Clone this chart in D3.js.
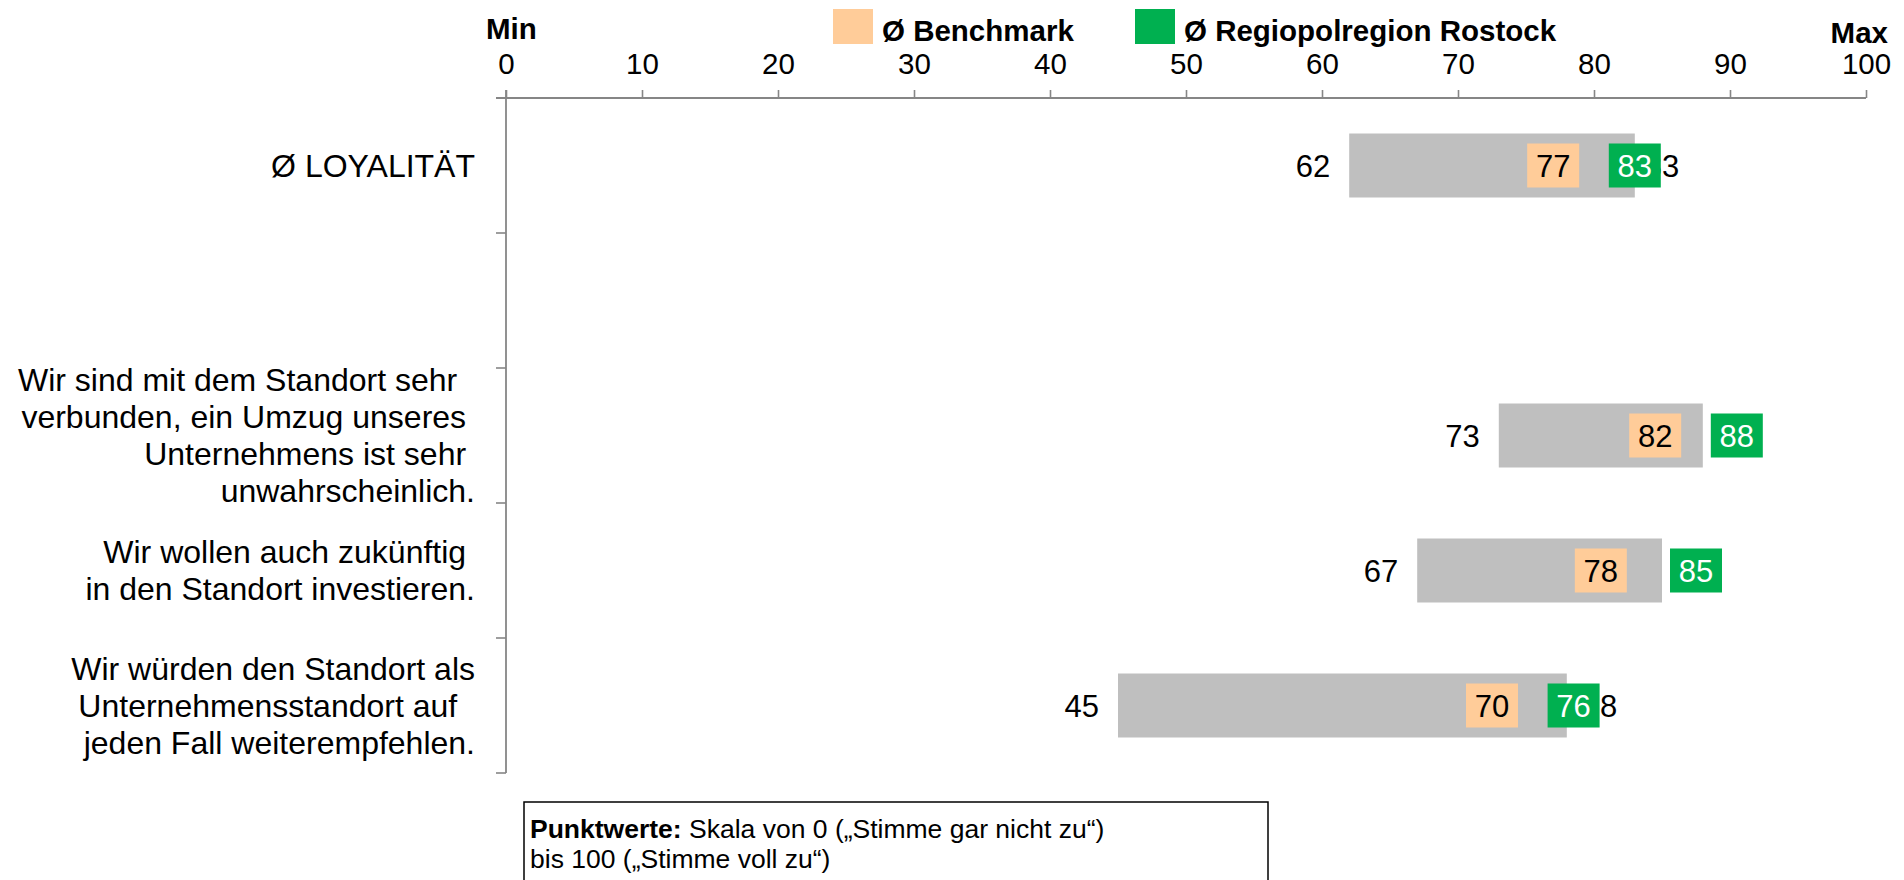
<!DOCTYPE html>
<html>
<head>
<meta charset="utf-8">
<script src="https://cdn.jsdelivr.net/npm/d3@7"></script>
<style>
  html, body { margin: 0; padding: 0; background: #fff; }
  svg { display: block; font-family: "Liberation Sans", Arial, sans-serif; }
  .pre { white-space: pre; }
</style>
</head>
<body>
<svg id="chart" width="1904" height="880"></svg>
<script>
// Statement labels (one entry per row, split into lines; the second row is a spacer)
const categories = [
  ["Ø LOYALITÄT"],
  [],
  ["Wir sind mit dem Standort sehr  ", "verbunden, ein Umzug unseres ", "Unternehmens ist sehr ", "unwahrscheinlich."],
  ["Wir wollen auch zukünftig ", "in den Standort investieren."],
  ["Wir würden den Standort als", "Unternehmensstandort auf  ", "jeden Fall weiterempfehlen."]
];
const minValues       = [62, null, 73, 67, 45];
const maxValues       = [83, null, 88, 85, 78];
const benchmarkValues = [77, null, 82, 78, 70];
const regionValues    = [83, null, 88, 85, 76];
const xTicks = [0, 10, 20, 30, 40, 50, 60, 70, 80, 90, 100];
const seriesNames = ["Ø Benchmark", "Ø Regiopolregion Rostock"];
const footnoteBold = "Punktwerte:";
const footnoteLines = [" Skala von 0 („Stimme gar nicht zu“)", "bis 100 („Stimme voll zu“)"];

const COLORS = { range: "#BFBFBF", benchmark: "#FFCC99", region: "#00B050", axis: "#868686" };

const svg = d3.select("#chart");

const x = d3.scaleLinear().domain([0, 100]).range([506, 1866]);
const y = d3.scaleBand().domain(d3.range(categories.length)).range([98, 773]).padding(0);

const bw = y.bandwidth();
const barH = bw * 0.474;
const boxW = 52, boxH = 44;
const valueFont = 31;
const catFont = 32;
const lineGap = 37;

// ---- top axis ----
const axisG = svg.append("g").attr("transform", `translate(0,${y.range()[0]})`);
axisG.call(
  d3.axisTop(x).tickValues(xTicks).tickSize(8).tickSizeOuter(0).tickPadding(16)
);
axisG.select(".domain").remove();
axisG.selectAll(".tick line").attr("stroke", COLORS.axis).attr("stroke-width", 1.6);
axisG.selectAll(".tick text")
  .attr("font-size", 29.5).attr("fill", "#000")
  .attr("font-family", "'Liberation Sans', Arial, sans-serif");
axisG.append("line")
  .attr("x1", x(0) - 10).attr("x2", x(100))
  .attr("y1", 0).attr("y2", 0)
  .attr("stroke", COLORS.axis).attr("stroke-width", 1.8);

// ---- left axis with band-boundary ticks ----
svg.append("line")
  .attr("x1", x(0)).attr("x2", x(0))
  .attr("y1", y.range()[0] - 8).attr("y2", y.range()[1])
  .attr("stroke", COLORS.axis).attr("stroke-width", 1.8);
svg.append("g").selectAll("line")
  .data(d3.range(categories.length + 1))
  .join("line")
  .attr("x1", x(0) - 10).attr("x2", x(0))
  .attr("y1", i => y.range()[0] + i * y.step())
  .attr("y2", i => y.range()[0] + i * y.step())
  .attr("stroke", COLORS.axis).attr("stroke-width", 1.6);

// ---- Min / Max headers ----
svg.append("text").text("Min")
  .attr("x", x(0) - 20).attr("y", 39)
  .attr("font-size", 29.5).attr("font-weight", "bold");
svg.append("text").text("Max")
  .attr("x", x(100) + 22).attr("y", 43)
  .attr("text-anchor", "end")
  .attr("font-size", 29.5).attr("font-weight", "bold");

// ---- legend ----
const legend = svg.append("g");
const legendItems = [
  { name: seriesNames[0], color: COLORS.benchmark, x: 833 },
  { name: seriesNames[1], color: COLORS.region, x: 1135 }
];
const li = legend.selectAll("g").data(legendItems).join("g")
  .attr("transform", d => `translate(${d.x},9)`);
li.append("rect").attr("width", 40).attr("height", 35).attr("fill", d => d.color);
li.append("text").text(d => d.name)
  .attr("x", 49).attr("y", 32)
  .attr("font-size", 29.5).attr("font-weight", "bold");

// ---- category labels ----
const catG = svg.append("g");
categories.forEach((lines, i) => {
  if (!lines.length) return;
  const cy = y(i) + bw / 2;
  const base = cy + catFont * 0.358 - (lines.length - 1) / 2 * lineGap;
  const t = catG.append("text")
    .attr("class", "pre")
    .attr("text-anchor", "end")
    .attr("font-size", catFont);
  lines.forEach((ln, k) => {
    t.append("tspan").attr("x", x(0) - 31).attr("y", base + k * lineGap).text(ln);
  });
});

// ---- rows ----
const rows = categories.map((c, i) => ({
  i,
  min: minValues[i], max: maxValues[i],
  bench: benchmarkValues[i], region: regionValues[i]
})).filter(d => d.min != null);

const cyOf = d => y(d.i) + bw / 2;
const isSummary = d => d.i === 0;

// range bar (min..max)
svg.append("g").selectAll("rect").data(rows).join("rect")
  .attr("x", d => x(d.min))
  .attr("width", d => x(d.max) - x(d.min))
  .attr("y", d => cyOf(d) - barH / 2)
  .attr("height", barH)
  .attr("fill", COLORS.range);

// min / max value labels
svg.append("g").selectAll("text").data(rows).join("text")
  .attr("x", d => x(d.min) - 19)
  .attr("y", d => cyOf(d) + valueFont * 0.358)
  .attr("text-anchor", "end")
  .attr("font-size", valueFont)
  .text(d => d.min);
svg.append("g").selectAll("text").data(rows).join("text")
  .attr("x", d => x(d.max) + (isSummary(d) ? 10 : 16))
  .attr("y", d => cyOf(d) + valueFont * 0.358)
  .attr("font-size", valueFont)
  .text(d => d.max);

// marker boxes: the summary row centres them on the value,
// the statement rows place them to the right of the value
const markerShift = d => (isSummary(d) ? 0 : boxW / 2 + 8);

function drawMarkers(key, fill, textFill) {
  const g = svg.append("g").selectAll("g").data(rows).join("g")
    .attr("transform", d => `translate(${x(d[key]) + markerShift(d)},${cyOf(d)})`);
  g.append("rect")
    .attr("x", -boxW / 2).attr("y", -boxH / 2)
    .attr("width", boxW).attr("height", boxH)
    .attr("fill", fill);
  g.append("text")
    .attr("text-anchor", "middle")
    .attr("y", valueFont * 0.358)
    .attr("font-size", valueFont)
    .attr("fill", textFill)
    .text(d => d[key]);
}
drawMarkers("bench", COLORS.benchmark, "#000");
drawMarkers("region", COLORS.region, "#fff");

// ---- footnote box ----
const fn = svg.append("g");
fn.append("rect")
  .attr("x", 524).attr("y", 802).attr("width", 744).attr("height", 120)
  .attr("fill", "#fff").attr("stroke", "#000").attr("stroke-width", 1.5);
const fnText = fn.append("text").attr("font-size", 26.5).attr("class", "pre");
const l1 = fnText.append("tspan").attr("x", 530).attr("y", 838);
l1.append("tspan").attr("font-weight", "bold").text(footnoteBold);
l1.append("tspan").text(footnoteLines[0]);
fnText.append("tspan").attr("x", 530).attr("y", 868).text(footnoteLines[1]);
</script>
</body>
</html>
